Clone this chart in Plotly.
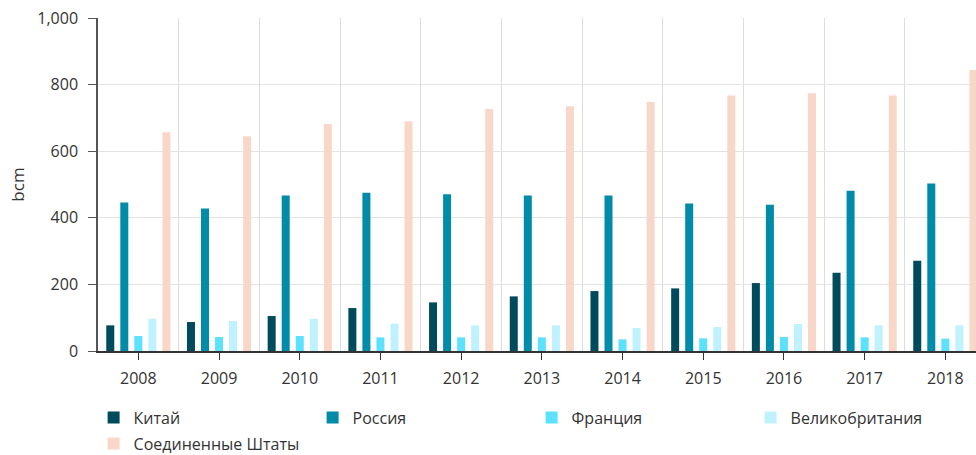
import plotly.graph_objects as go

years = [2008, 2009, 2010, 2011, 2012, 2013, 2014, 2015, 2016, 2017, 2018]
china = [77, 87, 105, 129, 146, 164, 180, 188, 204, 235, 271]
russia = [446, 428, 467, 475, 471, 467, 467, 443, 439, 481, 503]
france = [45, 42, 45, 41, 41, 41, 35, 38, 42, 41, 37]
uk = [97, 90, 97, 82, 77, 77, 69, 72, 81, 77, 77]
usa = [657, 645, 682, 690, 727, 735, 748, 767, 774, 767, 844]

series = [
    ("Китай", china, "#004b5b", "legend"),
    ("Россия", russia, "#008ba8", "legend"),
    ("Франция", france, "#5ce1ff", "legend"),
    ("Великобритания", uk, "#bff1ff", "legend"),
    ("Соединенные Штаты", usa, "#f9d7c8", "legend2"),
]

fig = go.Figure()
for name, vals, col, lg in series:
    fig.add_trace(go.Bar(x=years, y=vals, name=name, legend=lg,
                         marker=dict(color=col, line=dict(width=0))))

font = "Open Sans, sans-serif"
legend_common = dict(orientation="h", xanchor="left", yanchor="top",
                     entrywidth=174, entrywidthmode="pixels",
                     font=dict(size=16, color="#333333"), itemclick=False,
                     bgcolor="rgba(0,0,0,0)")
fig.update_layout(
    width=976, height=455,
    margin=dict(l=98, r=0, t=18, b=104, autoexpand=False),
    barmode="group", bargap=0.13, bargroupgap=0.43,
    plot_bgcolor="white", paper_bgcolor="white",
    font=dict(family=font, size=16, color="#333333"),
    showlegend=True,
    legend=dict(x=-0.005, y=-0.149, **legend_common),
    legend2=dict(x=-0.005, y=-0.227, **legend_common),
    xaxis=dict(range=[2007.5, 2018.38], tickmode="array", tickvals=years,
               ticktext=[str(y) for y in years], showgrid=False,
               showline=True, linecolor="#333333", linewidth=1.5,
               ticks="outside", ticklen=7, tickcolor="#333333",
               minor=dict(tick0=2007.5, dtick=1, showgrid=True, gridcolor="#dddddd", gridwidth=1, ticks=""),
               zeroline=False, ticklabelstandoff=5, ticklabeloverflow="allow"),
    yaxis=dict(range=[0, 1000], dtick=200, tickformat=",", showgrid=True, gridcolor="#e3e3e3",
               showline=True, linecolor="#555555", linewidth=1.5,
               ticks="outside", ticklen=8, tickcolor="#555555",
               zeroline=False, ticklabeloverflow="allow", ticklabelstandoff=7,
               title=dict(text="bcm", font=dict(size=17, color="#333333"), standoff=8)),
)

fig.write_html("out.html", config={"displayModeBar": False},
               post_script="document.body.style.margin='0';document.body.style.overflow='hidden';")
